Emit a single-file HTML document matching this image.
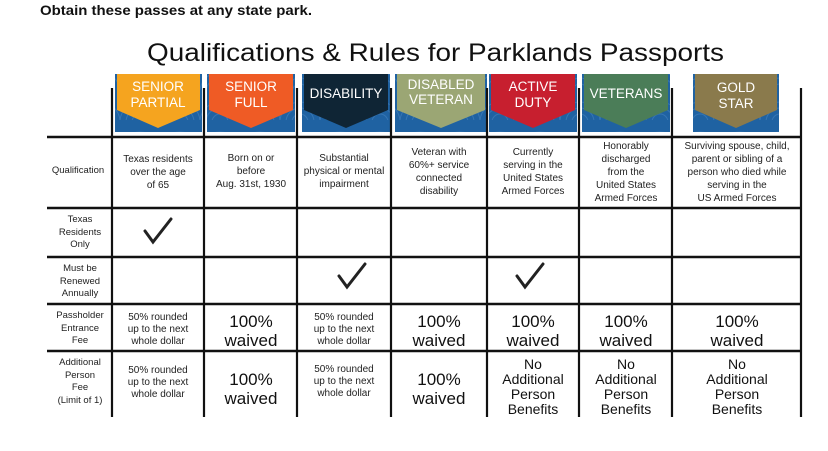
<!DOCTYPE html>
<html><head><meta charset="utf-8"><style>
html,body{margin:0;padding:0;background:#fff;}
svg{display:block;font-family:"Liberation Sans",sans-serif;}
</style></head><body>
<svg width="828" height="451" viewBox="0 0 828 451" xmlns="http://www.w3.org/2000/svg">
<text x="40" y="15" font-size="13.5" font-weight="bold" fill="#111" textLength="272" lengthAdjust="spacingAndGlyphs">Obtain these passes at any state park.</text>
<text x="147" y="61" font-size="25" fill="#111" textLength="577" lengthAdjust="spacingAndGlyphs">Qualifications &amp; Rules for Parklands Passports</text>
<defs>
<pattern id="arcs" width="40" height="30" patternUnits="userSpaceOnUse">
<rect width="40" height="30" fill="#1f62a2"/>
<circle cx="20" cy="32" r="8" fill="none" stroke="#3575b3" stroke-width="1"/>
<circle cx="20" cy="32" r="14" fill="none" stroke="#3575b3" stroke-width="1"/>
<circle cx="20" cy="32" r="20" fill="none" stroke="#3575b3" stroke-width="1"/>
</pattern>
</defs>
<!-- badges -->
<g font-size="13.5" fill="#fff" text-anchor="middle">
<g><rect x="115" y="74" width="87" height="58" fill="url(#arcs)"/><polygon points="117,74 200,74 200,110 158,128 117,110" fill="#f5a41f"/><text x="158" y="91">SENIOR</text><text x="158" y="107">PARTIAL</text></g>
<g><rect x="207" y="74" width="88" height="58" fill="url(#arcs)"/><polygon points="209,74 293,74 293,110 251,128 209,110" fill="#ef5b25"/><text x="251" y="91">SENIOR</text><text x="251" y="107">FULL</text></g>
<g><rect x="302" y="74" width="88" height="58" fill="url(#arcs)"/><polygon points="304,74 388,74 388,110 346,128 304,110" fill="#0f2535"/><text x="346" y="98">DISABILITY</text></g>
<g><rect x="395" y="74" width="92" height="58" fill="url(#arcs)"/><polygon points="397,74 485,74 485,110 441,128 397,110" fill="#9ba674"/><text x="441" y="89">DISABLED</text><text x="441" y="104">VETERAN</text></g>
<g><rect x="489" y="74" width="88" height="58" fill="url(#arcs)"/><polygon points="491,74 575,74 575,110 533,128 491,110" fill="#c71f2f"/><text x="533" y="91">ACTIVE</text><text x="533" y="107">DUTY</text></g>
<g><rect x="582" y="74" width="88" height="58" fill="url(#arcs)"/><polygon points="584,74 668,74 668,110 626,128 584,110" fill="#4b7d58"/><text x="626" y="98">VETERANS</text></g>
<g><rect x="693" y="74" width="86" height="58" fill="url(#arcs)"/><polygon points="695,74 777,74 777,110 736,128 695,110" fill="#8a7a4c"/><text x="736" y="92">GOLD</text><text x="736" y="108">STAR</text></g>
</g>
<!-- grid -->
<g stroke="#111" stroke-width="2.5">
<line x1="47" y1="137" x2="801" y2="137"/>
<line x1="47" y1="208" x2="801" y2="208"/>
<line x1="47" y1="257" x2="801" y2="257"/>
<line x1="47" y1="304" x2="801" y2="304"/>
<line x1="47" y1="351" x2="801" y2="351"/>
</g>
<g stroke="#111" stroke-width="2.2">
<line x1="112" y1="88" x2="112" y2="417"/>
<line x1="204" y1="88" x2="204" y2="417"/>
<line x1="297" y1="88" x2="297" y2="417"/>
<line x1="391" y1="88" x2="391" y2="417"/>
<line x1="487" y1="88" x2="487" y2="417"/>
<line x1="579" y1="88" x2="579" y2="417"/>
<line x1="672" y1="88" x2="672" y2="417"/>
<line x1="801" y1="88" x2="801" y2="417"/>
</g>
<!-- left labels -->
<g font-size="9.5" fill="#222" text-anchor="middle">
<text x="78" y="173">Qualification</text>
<text x="80" y="222">Texas</text><text x="80" y="235">Residents</text><text x="80" y="247">Only</text>
<text x="80" y="271">Must be</text><text x="80" y="284">Renewed</text><text x="80" y="296">Annually</text>
<text x="80" y="318">Passholder</text><text x="80" y="331">Entrance</text><text x="80" y="343">Fee</text>
<text x="80" y="365">Additional</text><text x="80" y="378">Person</text><text x="80" y="390">Fee</text><text x="80" y="403">(Limit of 1)</text>
</g>
<!-- qualification row -->
<g font-size="10" fill="#222" text-anchor="middle">
<text x="158" y="162">Texas residents</text><text x="158" y="175">over the age</text><text x="158" y="188">of 65</text>
<text x="251" y="161">Born on or</text><text x="251" y="174">before</text><text x="251" y="187">Aug. 31st, 1930</text>
<text x="344" y="161">Substantial</text><text x="344" y="174">physical or mental</text><text x="344" y="187">impairment</text>
<text x="439" y="155">Veteran with</text><text x="439" y="168">60%+ service</text><text x="439" y="181">connected</text><text x="439" y="194">disability</text>
<text x="533" y="155">Currently</text><text x="533" y="168">serving in the</text><text x="533" y="181">United States</text><text x="533" y="194">Armed Forces</text>
<text x="626" y="149">Honorably</text><text x="626" y="162">discharged</text><text x="626" y="175">from the</text><text x="626" y="188">United States</text><text x="626" y="201">Armed Forces</text>
<text x="737" y="149">Surviving spouse, child,</text><text x="737" y="162">parent or sibling of a</text><text x="737" y="175">person who died while</text><text x="737" y="188">serving in the</text><text x="737" y="201">US Armed Forces</text>
</g>
<!-- checks -->
<g fill="none" stroke="#222" stroke-width="3" stroke-linecap="round">
<path d="M145,231 L153,242 L171,219"/>
<path d="M339,276 L347,287 L365,264"/>
<path d="M517,276 L525,287 L543,264"/>
</g>
<!-- fee rows -->
<g font-size="10" fill="#222" text-anchor="middle">
<text x="158" y="320">50% rounded</text><text x="158" y="332">up to the next</text><text x="158" y="344">whole dollar</text>
<text x="344" y="320">50% rounded</text><text x="344" y="332">up to the next</text><text x="344" y="344">whole dollar</text>
<text x="158" y="373">50% rounded</text><text x="158" y="385">up to the next</text><text x="158" y="397">whole dollar</text>
<text x="344" y="372">50% rounded</text><text x="344" y="384">up to the next</text><text x="344" y="396">whole dollar</text>
</g>
<g font-size="17" fill="#111" text-anchor="middle">
<text x="251" y="327">100%</text><text x="251" y="346">waived</text>
<text x="439" y="327">100%</text><text x="439" y="346">waived</text>
<text x="533" y="327">100%</text><text x="533" y="346">waived</text>
<text x="626" y="327">100%</text><text x="626" y="346">waived</text>
<text x="737" y="327">100%</text><text x="737" y="346">waived</text>
<text x="251" y="385">100%</text><text x="251" y="404">waived</text>
<text x="439" y="385">100%</text><text x="439" y="404">waived</text>
</g>
<g font-size="14" fill="#111" text-anchor="middle">
<text x="533" y="369">No</text><text x="533" y="384">Additional</text><text x="533" y="399">Person</text><text x="533" y="414">Benefits</text>
<text x="626" y="369">No</text><text x="626" y="384">Additional</text><text x="626" y="399">Person</text><text x="626" y="414">Benefits</text>
<text x="737" y="369">No</text><text x="737" y="384">Additional</text><text x="737" y="399">Person</text><text x="737" y="414">Benefits</text>
</g>
</svg>
</body></html>
